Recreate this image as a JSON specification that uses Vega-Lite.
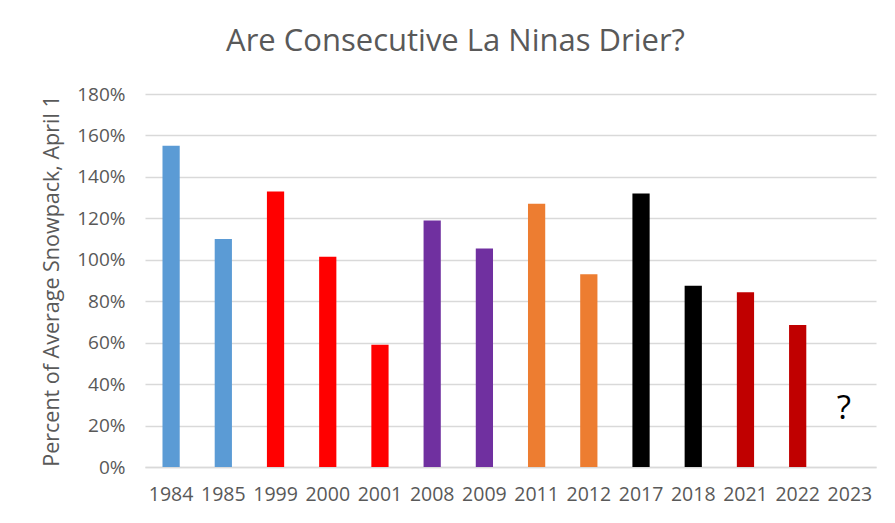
{
  "$schema": "https://vega.github.io/schema/vega-lite/v6.json",
  "autosize": {"type": "none"},
  "width": 731,
  "height": 373,
  "padding": {"left": 145, "top": 94, "right": 19, "bottom": 56},
  "background": "#ffffff",
  "config": {
    "view": {"stroke": null},
    "font": "Open Sans"
  },
  "title": {
    "text": "Are Consecutive La Ninas Drier?",
    "fontSize": 31,
    "fontWeight": "normal",
    "color": "#595959",
    "anchor": "middle",
    "frame": "group",
    "dx": -55,
    "offset": 27
  },
  "data": {
    "values": [
      {"year": "1984", "pct": 1.55, "group": "A"},
      {"year": "1985", "pct": 1.10, "group": "A"},
      {"year": "1999", "pct": 1.33, "group": "B"},
      {"year": "2000", "pct": 1.015, "group": "B"},
      {"year": "2001", "pct": 0.59, "group": "B"},
      {"year": "2008", "pct": 1.19, "group": "C"},
      {"year": "2009", "pct": 1.055, "group": "C"},
      {"year": "2011", "pct": 1.27, "group": "D"},
      {"year": "2012", "pct": 0.93, "group": "D"},
      {"year": "2017", "pct": 1.32, "group": "E"},
      {"year": "2018", "pct": 0.875, "group": "E"},
      {"year": "2021", "pct": 0.843, "group": "F"},
      {"year": "2022", "pct": 0.685, "group": "F"},
      {"year": "2023", "pct": null, "group": "G", "note": "?", "noteY": 0.23}
    ]
  },
  "encoding": {
    "x": {
      "field": "year",
      "type": "ordinal",
      "sort": null,
      "scale": {"paddingInner": 0.67, "paddingOuter": 0.335},
      "axis": {
        "title": null,
        "labelAngle": 0,
        "labelFontSize": 19.5,
        "labelColor": "#595959",
        "labelPadding": 18,
        "ticks": false,
        "tickSize": 0,
        "domainColor": "#d9d9d9",
        "domainWidth": 1.5
      }
    }
  },
  "layer": [
    {
      "mark": {"type": "bar"},
      "encoding": {
        "y": {
          "field": "pct",
          "type": "quantitative",
          "scale": {"domain": [0, 1.8]},
          "axis": {
            "title": "Percent of Average Snowpack, April 1",
            "titleFontSize": 21.5,
            "titleFontWeight": "normal",
            "titleColor": "#595959",
            "titlePadding": 13,
            "values": [0, 0.2, 0.4, 0.6, 0.8, 1.0, 1.2, 1.4, 1.6, 1.8],
            "format": ".0%",
            "labelFontSize": 19,
            "labelColor": "#595959",
            "labelPadding": 20,
            "ticks": false,
            "tickSize": 0,
            "domain": false,
            "gridColor": "#d9d9d9",
            "gridWidth": 1.5
          }
        },
        "color": {
          "field": "group",
          "type": "nominal",
          "scale": {
            "domain": ["A", "B", "C", "D", "E", "F", "G"],
            "range": ["#5b9bd5", "#ff0000", "#7030a0", "#ed7d31", "#000000", "#c00000", "#ffffff"]
          },
          "legend": null
        }
      }
    },
    {
      "mark": {"type": "text", "fontSize": 33, "color": "#000000", "baseline": "alphabetic", "align": "center", "dx": -6},
      "encoding": {
        "y": {"field": "noteY", "type": "quantitative"},
        "text": {"field": "note"}
      }
    }
  ]
}
